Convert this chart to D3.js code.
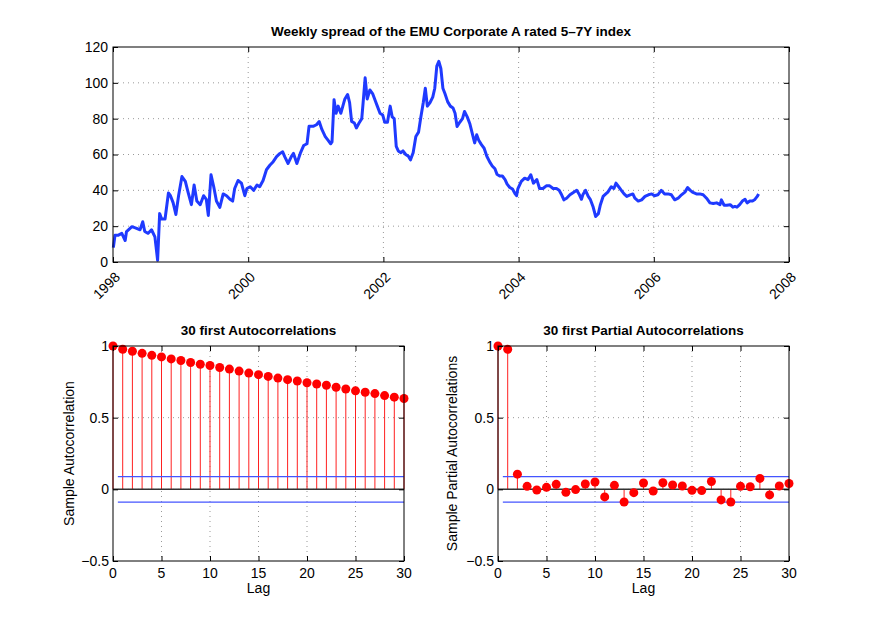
<!DOCTYPE html>
<html>
<head>
<meta charset="utf-8">
<script src="https://cdn.jsdelivr.net/npm/d3@7"></script>
<style>
  body { margin: 0; background: #fff; }
  text { font-family: "Liberation Sans", Arial, Helvetica, sans-serif; fill: #000; }
</style>
</head>
<body>
<div id="chart"></div>
<script>
// weekly spread (decimal year, bp)
var spreadDates = [
  1998.005, 1998.03, 1998.08, 1998.13, 1998.18, 1998.20, 1998.28, 1998.33, 1998.40, 1998.44,
  1998.47, 1998.52, 1998.57, 1998.62, 1998.66, 1998.69, 1998.72, 1998.77, 1998.82, 1998.85,
  1998.89, 1998.93, 1998.97, 1999.02, 1999.07, 1999.11, 1999.16, 1999.20, 1999.24, 1999.29,
  1999.34, 1999.38, 1999.41, 1999.45, 1999.49, 1999.53, 1999.58, 1999.63, 1999.68, 1999.73,
  1999.77, 1999.80, 1999.85, 1999.90, 1999.95, 1999.98, 2000.03, 2000.08, 2000.13, 2000.17,
  2000.22, 2000.27, 2000.32, 2000.37, 2000.42, 2000.47, 2000.51, 2000.54, 2000.59, 2000.64,
  2000.67, 2000.72, 2000.77, 2000.82, 2000.87, 2000.90, 2000.96, 2001.01, 2001.05, 2001.09,
  2001.14, 2001.18, 2001.22, 2001.24, 2001.27, 2001.30, 2001.33, 2001.37, 2001.40, 2001.43,
  2001.47, 2001.50, 2001.53, 2001.57, 2001.60, 2001.64, 2001.68, 2001.70, 2001.73, 2001.76,
  2001.80, 2001.84, 2001.88, 2001.91, 2001.95, 2001.99, 2002.02, 2002.06, 2002.10, 2002.13,
  2002.16, 2002.19, 2002.22, 2002.26, 2002.29, 2002.33, 2002.37, 2002.40, 2002.44, 2002.48,
  2002.52, 2002.55, 2002.59, 2002.62, 2002.65, 2002.69, 2002.73, 2002.76, 2002.79, 2002.82,
  2002.85, 2002.88, 2002.91, 2002.95, 2002.99, 2003.03, 2003.06, 2003.09, 2003.13, 2003.17,
  2003.20, 2003.24, 2003.28, 2003.32, 2003.35, 2003.38, 2003.41, 2003.45, 2003.49, 2003.53,
  2003.57, 2003.61, 2003.65, 2003.68, 2003.72, 2003.76, 2003.80, 2003.83, 2003.87, 2003.91,
  2003.95, 2003.97, 2003.99, 2004.04, 2004.09, 2004.14, 2004.18, 2004.22, 2004.27, 2004.31,
  2004.36, 2004.41, 2004.46, 2004.51, 2004.56, 2004.60, 2004.63, 2004.67, 2004.71, 2004.76,
  2004.81, 2004.86, 2004.90, 2004.93, 2004.95, 2004.99, 2005.03, 2005.06, 2005.10, 2005.14,
  2005.18, 2005.21, 2005.25, 2005.29, 2005.32, 2005.37, 2005.41, 2005.44, 2005.48, 2005.52,
  2005.56, 2005.60, 2005.65, 2005.69, 2005.72, 2005.77, 2005.82, 2005.87, 2005.92, 2005.97,
  2006.01, 2006.06, 2006.11, 2006.16, 2006.21, 2006.26, 2006.31, 2006.36, 2006.41, 2006.46,
  2006.50, 2006.54, 2006.58, 2006.63, 2006.68, 2006.73, 2006.78, 2006.83, 2006.88, 2006.93,
  2006.98, 2007.00, 2007.04, 2007.08, 2007.13, 2007.17, 2007.20, 2007.23, 2007.27, 2007.31,
  2007.35, 2007.38, 2007.42, 2007.46, 2007.49, 2007.53, 2007.55
];
var spreadValues = [
  8, 15, 15, 16, 12, 17, 19.7, 19, 18, 22.5,
  17, 16, 18, 14, 1, 27, 24, 24, 38.5, 37,
  33, 26.5, 37, 47.7, 45, 39, 32, 43, 34, 32,
  37, 35, 26, 48.7, 42, 34, 30.5, 38, 37, 35,
  34, 41, 45.5, 44, 37, 41, 42, 40, 43, 42,
  45.5, 51.5, 54, 56, 58.8, 60.6, 61.5, 58.8, 55, 59,
  60.6, 55, 60.6, 65, 66, 75.7, 75.7, 76.6, 78.4, 74,
  70, 68, 66, 67, 90.6, 83, 87, 83, 87, 91,
  93.5, 89, 78.5, 77.6, 74.8, 77.6, 80, 89, 102.8, 91,
  96, 94, 90, 87, 83, 82, 78, 78, 87, 81,
  80, 64.5, 62, 61, 62, 60, 59, 57, 61, 70,
  72.5, 80, 89, 97, 87, 89, 92, 97, 109.3, 112,
  108, 97, 94, 89.5, 87, 86, 83, 75.6, 78, 80,
  84, 81, 77, 71, 66.5, 71, 68, 65.5, 63.5, 59,
  56, 53.6, 52, 49, 48, 48, 46, 43.5, 41.6, 40.7,
  38, 37, 41, 45, 46.8, 46, 48.7, 44, 46, 41,
  41, 42.5, 42.5, 41, 41, 40, 38, 34.7, 35.6, 37.5,
  38.8, 40, 37.5, 35, 37.5, 40, 36.6, 35, 31, 25.4,
  27, 32, 36.6, 38, 39, 42, 41, 44, 42, 40,
  38, 36.6, 37.5, 38, 35.6, 34, 34.7, 36.6, 37.5, 38,
  37, 37.5, 40, 38, 38, 37.5, 34.7, 35.6, 37.5, 39,
  41.5, 40, 38.8, 38, 38, 37.5, 35.6, 33, 32.6, 33,
  32, 34.7, 31.7, 31.7, 32, 30.6, 31, 30.6, 32, 34,
  35, 33, 34, 34, 34.7, 36.6, 38
];

var lags = d3.range(0, 31);
var acfValues = [
  1.0, 0.977, 0.963, 0.949, 0.935, 0.924, 0.910, 0.899, 0.885, 0.873,
  0.864, 0.850, 0.839, 0.825, 0.811, 0.800, 0.788, 0.776, 0.765, 0.756,
  0.744, 0.735, 0.726, 0.712, 0.700, 0.687, 0.677, 0.668, 0.654, 0.643, 0.634
];
var pacfValues = [
  1.0, 0.977, 0.106, 0.021, -0.005, 0.014, 0.035, -0.021, -0.002, 0.037,
  0.051, -0.053, 0.028, -0.088, -0.023, 0.044, -0.012, 0.046, 0.030, 0.023,
  -0.007, -0.009, 0.055, -0.074, -0.088, 0.021, 0.018, 0.076, -0.039, 0.023, 0.041
];
var confBound = 0.089;

var yearTicks = [1998, 2000, 2002, 2004, 2006, 2008];
var spreadTicks = [0, 20, 40, 60, 80, 100, 120];
var lagTicks = [0, 5, 10, 15, 20, 25, 30];
var corrTicks = [-0.5, 0, 0.5, 1];

var svg = d3.select("#chart").append("svg")
  .attr("width", 872)
  .attr("height", 631);

var gridColor = "#999";

function frame(g, w, h) {
  g.append("rect")
    .attr("width", w).attr("height", h)
    .attr("fill", "none")
    .attr("stroke", "#000")
    .attr("stroke-width", 1);
}

function grid(g, x, y, xt, yt, w, h) {
  g.selectAll(".gx").data(xt.filter(d => x(d) > 1 && x(d) < w - 1)).enter()
    .append("line")
    .attr("x1", d => x(d)).attr("x2", d => x(d))
    .attr("y1", 0).attr("y2", h)
    .attr("stroke", gridColor).attr("stroke-dasharray", "1,4");
  g.selectAll(".gy").data(yt.filter(d => y(d) > 1 && y(d) < h - 1)).enter()
    .append("line")
    .attr("y1", d => y(d)).attr("y2", d => y(d))
    .attr("x1", 0).attr("x2", w)
    .attr("stroke", gridColor).attr("stroke-dasharray", "1,4");
}

function ticks(g, x, y, xt, yt, w, h) {
  // inward tick marks on all four sides
  g.append("g").attr("transform", `translate(0,${h})`)
    .call(d3.axisBottom(x).tickValues(xt).tickSize(-5).tickFormat(""))
    .call(a => a.select(".domain").remove());
  g.append("g")
    .call(d3.axisTop(x).tickValues(xt).tickSize(-5).tickFormat(""))
    .call(a => a.select(".domain").remove());
  g.append("g")
    .call(d3.axisLeft(y).tickValues(yt).tickSize(-5).tickFormat(""))
    .call(a => a.select(".domain").remove());
  g.append("g").attr("transform", `translate(${w},0)`)
    .call(d3.axisRight(y).tickValues(yt).tickSize(-5).tickFormat(""))
    .call(a => a.select(".domain").remove());
}

// ---------- top: spread series ----------
var topBox = { left: 113, top: 47, w: 676, h: 215 };
var gTop = svg.append("g").attr("transform", `translate(${topBox.left},${topBox.top})`);

var xYear = d3.scaleLinear().domain([1998, 2008]).range([0, topBox.w]);
var ySpread = d3.scaleLinear().domain([0, 120]).range([topBox.h, 0]);

grid(gTop, xYear, ySpread, yearTicks, spreadTicks, topBox.w, topBox.h);

var spread = spreadDates.map((d, i) => [d, spreadValues[i]]);
gTop.append("path")
  .datum(spread)
  .attr("fill", "none")
  .attr("stroke", "#1f3aff")
  .attr("stroke-width", 3)
  .attr("stroke-linejoin", "round")
  .attr("d", d3.line().x(d => xYear(d[0])).y(d => ySpread(d[1])));

ticks(gTop, xYear, ySpread, yearTicks, spreadTicks, topBox.w, topBox.h);
frame(gTop, topBox.w, topBox.h);

gTop.selectAll(".ylab").data(spreadTicks).enter()
  .append("text")
  .attr("x", -5).attr("y", d => ySpread(d))
  .attr("dy", "0.35em")
  .attr("text-anchor", "end")
  .attr("font-size", 14)
  .text(d => d);

gTop.selectAll(".xlab").data(yearTicks).enter()
  .append("text")
  .attr("transform", d => `translate(${xYear(d)},${topBox.h + 8}) rotate(-45)`)
  .attr("dy", "0.8em")
  .attr("text-anchor", "end")
  .attr("font-size", 14)
  .text(d => d);

svg.append("text")
  .attr("x", topBox.left + topBox.w / 2).attr("y", 36)
  .attr("text-anchor", "middle")
  .attr("font-size", 13.5)
  .attr("font-weight", "bold")
  .text("Weekly spread of the EMU Corporate A rated 5\u20137Y index");

// ---------- bottom: stem plots ----------
function stemPlot(left, values, title, ylabel, ylabelX) {
  var w = 291, h = 215, t = 346;
  var g = svg.append("g").attr("transform", `translate(${left},${t})`);
  var x = d3.scaleLinear().domain([0, 30]).range([0, w]);
  var y = d3.scaleLinear().domain([-0.5, 1]).range([h, 0]);

  grid(g, x, y, lagTicks, corrTicks, w, h);

  g.selectAll(".stem").data(lags).enter()
    .append("line")
    .attr("x1", d => x(d)).attr("x2", d => x(d))
    .attr("y1", y(0)).attr("y2", d => y(values[d]))
    .attr("stroke", "#ff2020").attr("stroke-width", 1);

  g.append("line")
    .attr("x1", 0).attr("x2", w)
    .attr("y1", y(0)).attr("y2", y(0))
    .attr("stroke", "#333").attr("stroke-width", 1.5);

  [confBound, -confBound].forEach(function(b) {
    g.append("line")
      .attr("x1", x(0.5)).attr("x2", w)
      .attr("y1", y(b)).attr("y2", y(b))
      .attr("stroke", "#4455ff").attr("stroke-width", 1.2);
  });

  g.selectAll(".dot").data(lags).enter()
    .append("circle")
    .attr("cx", d => x(d)).attr("cy", d => y(values[d]))
    .attr("r", 4.5)
    .attr("fill", "#ff0000");

  ticks(g, x, y, lagTicks, corrTicks, w, h);
  frame(g, w, h);

  g.selectAll(".ylab").data(corrTicks).enter()
    .append("text")
    .attr("x", -4).attr("y", d => y(d))
    .attr("dy", "0.35em")
    .attr("text-anchor", "end")
    .attr("font-size", 14)
    .text(d => d < 0 ? "\u2212" + Math.abs(d) : d);

  g.selectAll(".xlab").data(lagTicks).enter()
    .append("text")
    .attr("x", d => x(d)).attr("y", h + 17)
    .attr("text-anchor", "middle")
    .attr("font-size", 14)
    .text(d => d);

  g.append("text")
    .attr("x", w / 2).attr("y", h + 32)
    .attr("text-anchor", "middle")
    .attr("font-size", 14)
    .text("Lag");

  g.append("text")
    .attr("x", w / 2).attr("y", -11)
    .attr("text-anchor", "middle")
    .attr("font-size", 13.5)
    .attr("font-weight", "bold")
    .text(title);

  svg.append("text")
    .attr("transform", `translate(${ylabelX},${t + h / 2}) rotate(-90)`)
    .attr("text-anchor", "middle")
    .attr("font-size", 14)
    .text(ylabel);
}

stemPlot(113, acfValues, "30 first Autocorrelations", "Sample Autocorrelation", 74);
stemPlot(498, pacfValues, "30 first Partial Autocorrelations", "Sample Partial Autocorrelations", 457);
</script>
</body>
</html>
